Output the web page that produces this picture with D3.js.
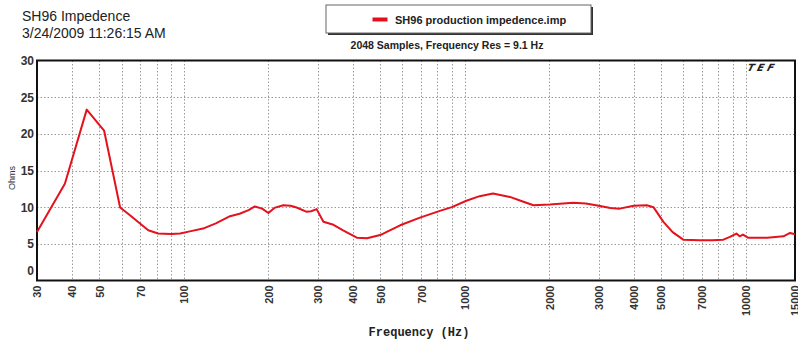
<!DOCTYPE html>
<html>
<head>
<meta charset="utf-8">
<script src="https://cdn.jsdelivr.net/npm/d3@7/dist/d3.min.js"></script>
<style>
  html, body { margin: 0; padding: 0; background: #fff; }
  svg { display: block; }
</style>
</head>
<body>
<svg id="chart" width="798" height="341"></svg>
<script>
// Impedence sweep, SH96 driver
const frequencyHz = [30, 37.7, 45.1, 52, 59.3, 64.3, 69.8, 74.7, 81, 90, 96.9, 105, 117, 130, 146, 158, 170, 179, 190, 200, 210, 226, 240, 252, 274, 284, 297, 314, 341, 369, 413, 449, 500, 589, 693, 816, 900, 1014, 1130, 1261, 1449, 1600, 1757, 2010, 2433, 2700, 3000, 3300, 3563, 4000, 4450, 4700, 5100, 5500, 6000, 6860, 7600, 8340, 8800, 9280, 9530, 9790, 10200, 11000, 11950, 13650, 14400, 15000];
const impedanceOhm = [6.6, 13.2, 23.3, 20.45, 9.96, 8.9, 7.77, 6.85, 6.4, 6.35, 6.4, 6.7, 7.08, 7.8, 8.77, 9.1, 9.6, 10.1, 9.8, 9.2, 9.9, 10.27, 10.2, 9.95, 9.36, 9.45, 9.73, 8.0, 7.6, 6.85, 5.84, 5.75, 6.2, 7.53, 8.58, 9.5, 10.0, 10.87, 11.5, 11.87, 11.4, 10.8, 10.27, 10.37, 10.6, 10.5, 10.18, 9.9, 9.8, 10.18, 10.27, 10.0, 8.0, 6.6, 5.57, 5.48, 5.5, 5.57, 5.94, 6.4, 6.03, 6.26, 5.84, 5.84, 5.84, 6.03, 6.48, 6.3];

const xGridValues = [40, 50, 60, 70, 80, 90, 100, 200, 300, 400, 500, 600, 700, 800, 900, 1000, 2000, 3000, 4000, 5000, 6000, 7000, 8000, 9000, 10000];
const xTickLabels = [30, 40, 50, 70, 100, 200, 300, 400, 500, 700, 1000, 2000, 3000, 4000, 5000, 7000, 10000, 15000];
const yTickValues = [0, 5, 10, 15, 20, 25, 30];

const svg = d3.select("#chart");
const plotLeft = 37, plotRight = 795, plotTop = 60.5, plotBottom = 280.5;

const x = d3.scaleLog().domain([30, 15000]).range([plotLeft, plotRight]);
const y = d3.scaleLinear().domain([0, 30]).range([plotBottom, plotTop]);

// Header text
svg.append("text").attr("x", 22).attr("y", 21)
  .attr("font-family", "Liberation Sans, Arial, sans-serif").attr("font-size", 14)
  .attr("fill", "#222").text("SH96 Impedence");
svg.append("text").attr("x", 22).attr("y", 37.5)
  .attr("font-family", "Liberation Sans, Arial, sans-serif").attr("font-size", 14)
  .attr("fill", "#222").text("3/24/2009 11:26:15 AM");

// Legend box with drop shadow
const lg = svg.append("g");
lg.append("rect").attr("x", 328).attr("y", 7).attr("width", 265).attr("height", 28).attr("fill", "#333");
lg.append("rect").attr("x", 326).attr("y", 5).attr("width", 265).attr("height", 28)
  .attr("fill", "#fff").attr("stroke", "#666").attr("stroke-width", 1);
lg.append("line").attr("x1", 372.5).attr("x2", 387.5).attr("y1", 19.5).attr("y2", 19.5)
  .attr("stroke", "#e3101b").attr("stroke-width", 4);
lg.append("text").attr("x", 395).attr("y", 23.5)
  .attr("font-family", "Liberation Sans, Arial, sans-serif").attr("font-size", 11)
  .attr("font-weight", "bold").attr("fill", "#222").text("SH96 production impedence.imp");

svg.append("text").attr("x", 447).attr("y", 48.5).attr("text-anchor", "middle")
  .attr("font-family", "Liberation Sans, Arial, sans-serif").attr("font-size", 10.5)
  .attr("font-weight", "bold").attr("fill", "#222").text("2048 Samples, Frequency Res = 9.1 Hz");

// Grid
const grid = svg.append("g").attr("stroke", "#9a9a9a").attr("stroke-width", 1)
  .attr("stroke-dasharray", "1.5,2");
grid.selectAll("line.v").data(xGridValues).join("line").attr("class", "v")
  .attr("x1", d => Math.round(x(d)) + 0.5).attr("x2", d => Math.round(x(d)) + 0.5)
  .attr("y1", plotTop).attr("y2", plotBottom);
grid.selectAll("line.h").data(yTickValues.slice(1, -1)).join("line").attr("class", "h")
  .attr("x1", plotLeft).attr("x2", plotRight)
  .attr("y1", d => Math.round(y(d)) + 0.5).attr("y2", d => Math.round(y(d)) + 0.5);

// Frame
svg.append("rect").attr("x", plotLeft).attr("y", plotTop)
  .attr("width", plotRight - plotLeft).attr("height", plotBottom - plotTop)
  .attr("fill", "none").attr("stroke", "#111").attr("stroke-width", 2);

// Y axis labels
const yAxis = d3.axisLeft(y).tickValues(yTickValues).tickSize(0).tickPadding(3);
const ya = svg.append("g").attr("transform", `translate(${plotLeft},0)`).call(yAxis);
ya.select(".domain").remove();
ya.selectAll("text").attr("font-family", "Liberation Sans, Arial, sans-serif")
  .attr("font-size", 12).attr("font-weight", "bold").attr("fill", "#333");
ya.selectAll(".tick").filter(d => d === 0).select("text").attr("dy", "-0.5em");

svg.append("text").attr("transform", "translate(15,178) rotate(-90)").attr("text-anchor", "middle")
  .attr("font-family", "Liberation Sans, Arial, sans-serif").attr("font-size", 9)
  .attr("fill", "#333").text("Ohms");

// X axis labels (rotated)
const xAxis = d3.axisBottom(x).tickValues(xTickLabels).tickFormat(d3.format("d")).tickSize(0).tickPadding(0);
const xa = svg.append("g").attr("transform", `translate(0,${plotBottom})`).call(xAxis);
xa.select(".domain").remove();
xa.selectAll("text")
  .attr("font-family", "Liberation Sans, Arial, sans-serif").attr("font-size", 11)
  .attr("font-weight", "bold").attr("fill", "#333")
  .attr("text-anchor", "end").attr("y", 0).attr("dy", "0.35em")
  .attr("transform", "translate(0,5) rotate(-90)");

svg.append("text").attr("x", 419).attr("y", 336).attr("text-anchor", "middle")
  .attr("font-family", "Liberation Mono, Courier New, monospace").attr("font-size", 12)
  .attr("font-weight", "bold").attr("fill", "#222").text("Frequency (Hz)");

// Logo mark
svg.append("text").attr("transform", "translate(746,71) skewX(-25)")
  .attr("font-family", "DejaVu Sans, sans-serif").attr("font-size", 10).attr("font-weight", "bold")
  .attr("letter-spacing", 3).attr("fill", "#222").text("TEF");

// Impedence curve
const pts = frequencyHz.map((f, i) => [f, impedanceOhm[i]]);
const line = d3.line().x(d => x(d[0])).y(d => y(d[1]));
svg.append("path").datum(pts).attr("d", line).attr("fill", "none")
  .attr("stroke", "#e3121c").attr("stroke-width", 2).attr("stroke-linejoin", "round");
</script>
</body>
</html>
